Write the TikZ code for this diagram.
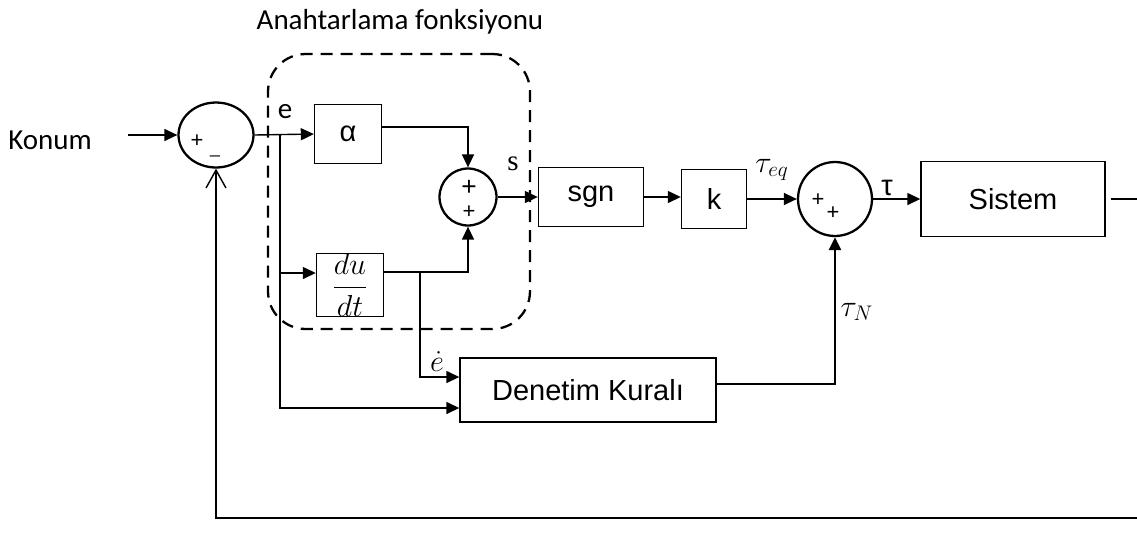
\documentclass[tikz,border=0pt]{standalone}
\usepackage{fontspec}
\setmainfont{Liberation Sans}
\newfontfamily\calibrifont{Carlito}
\newfontfamily\timesfont{Liberation Serif}
\usepackage{tikz}
\usetikzlibrary{arrows.meta, positioning, shapes.geometric}

\begin{document}
\begin{tikzpicture}[
    x=0.02cm, y=-0.02cm,
    every node/.style={font=\fontsize{16.5}{19}\selectfont, inner sep=0pt},
    block/.style={rectangle, draw, line width=0.8pt, minimum width=1.34cm, minimum height=1.18cm, align=center},
    sumnode/.style={draw, line width=1.3pt},
    signlbl/.style={font=\fontsize{12.5}{14}\selectfont},
    lbl/.style={font=\calibrifont\fontsize{16.5}{19}\selectfont},
    arrow/.style={-{Triangle[length=2.6mm, width=2.4mm]}, line width=0.8pt},
    link/.style={line width=0.8pt},
    switchbox/.style={draw, line width=1.3pt, dash pattern=on 0.24cm off 0.16cm, rounded corners=0.75cm}
]
\useasboundingbox (0,0) rectangle (1137,532);

% ============ SWITCHING FUNCTION ============
\node[lbl] (title) at (400,22) {Anahtarlama fonksiyonu};
\node[switchbox, minimum width=5.24cm, minimum height=5.5cm] (swfn) at (399,191.5) {};

\node[block] (alpha) at (348,134) {α};
\node[block, minimum height=1.08cm] (dudt) at (350,285) {$\displaystyle\frac{du}{dt}$};
\node[sumnode, circle, minimum size=1.14cm] (sum2) at (468,197) {};
\node[signlbl, font=\fontsize{15}{17}\selectfont] (s2a) at (469,188) {+};
\node[signlbl] (s2b) at (469,212) {+};

% ============ INPUT ============
\node[lbl] (konum) at (50,140) {Konum};
\coordinate (kin) at (128,135);
\node[sumnode, ellipse, minimum width=1.5cm, minimum height=1.3cm] (sum1) at (216,135) {};
\node[signlbl] (s1a) at (197,141) {+};
\node[signlbl, font=\fontsize{10}{12}\selectfont] (s1b) at (215,155) {\_};
\node[lbl] (elbl) at (285,112) {e};

% ============ MAIN PATH ============
\node[block, minimum width=2.1cm] (sgn) at (591,197) {sgn};
\node[block, minimum width=1.3cm] (k) at (714,199) {k};
\node[sumnode, circle, minimum size=1.48cm] (sum3) at (835,199) {};
\node[signlbl] (s3a) at (818,200) {+};
\node[signlbl] (s3b) at (833,213) {+};
\node[block, minimum width=3.68cm, minimum height=1.5cm] (sistem) at (1013,199) {Sistem};
\coordinate (out) at (1137,199);

\node[block, minimum width=5.12cm, minimum height=1.28cm] (denetim) at (588,390) {Denetim Kuralı};

% labels
\node (slbl) at (513,164) {\timesfont s};
\node (teq) at (772,170) {$\tau_{eq}$};
\node (tau) at (887,188) {τ};
\node (tauN) at (857,312) {$\tau_N$};
\node (edot) at (437,362) {$\dot{e}$};

% ============ ARROWS ============
\coordinate (branch) at (280,135);
\coordinate (dbranch) at (420,272);
\coordinate (fbleft) at (216,518);
\coordinate (fbright) at (1137,518);

\draw[arrow] (kin) -- (sum1.west);
\draw[arrow] (sum1.east) -- (alpha.west);
\draw[arrow] (branch) |- ([yshift=-0.36cm]denetim.west);
\draw[arrow] ([yshift=0.24cm]dudt.west -| branch) -- ([yshift=0.24cm]dudt.west);
\draw[arrow] ([yshift=0.14cm]alpha.east) -| (sum2.north);
\draw[arrow] ([yshift=0.26cm]dudt.east) -| (sum2.south);
\draw[arrow] (dbranch) |- ([yshift=0.26cm]denetim.west);

\draw[arrow] (sum2.east) -- (sgn.west);
\draw[arrow] (sgn.east) -- (sgn.east -| k.west);
\draw[arrow] (k.east) -- (sum3.west);
\draw[arrow] (sum3.east) -- (sistem.west);
\draw[link] ([xshift=0.1cm]sistem.east) -- (out);

\draw[arrow, line width=1.4pt] ([yshift=0.12cm]denetim.east) -| (sum3.south);

% feedback
\draw[link, -{Straight Barb[length=3.6mm, width=4mm]}] (fbright) -- (fbleft) -- (sum1.south);

\end{tikzpicture}
\end{document}
